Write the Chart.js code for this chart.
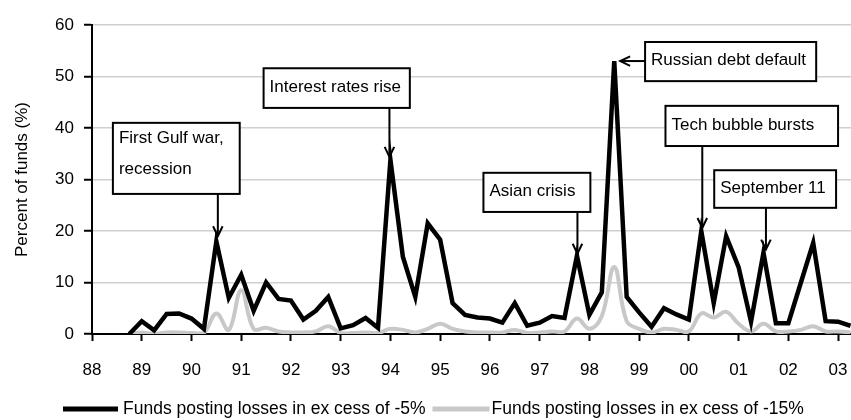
<!DOCTYPE html>
<html>
<head>
<meta charset="utf-8">
<script src="https://cdn.jsdelivr.net/npm/chart.js@4.4.1/dist/chart.umd.min.js"></script>
<style>
  html, body { margin: 0; padding: 0; background: #fff; }
  #wrap { width: 851px; height: 420px; }
</style>
</head>
<body>
<div id="wrap"><canvas id="fundsChart" width="851" height="420"></canvas></div>
<script>
// quarters (decimal year), from Q4 1988 to Q2 2003
const quarters = [
  1988.75,
  1989.0, 1989.25, 1989.5, 1989.75,
  1990.0, 1990.25, 1990.5, 1990.75,
  1991.0, 1991.25, 1991.5, 1991.75,
  1992.0, 1992.25, 1992.5, 1992.75,
  1993.0, 1993.25, 1993.5, 1993.75,
  1994.0, 1994.25, 1994.5, 1994.75,
  1995.0, 1995.25, 1995.5, 1995.75,
  1996.0, 1996.25, 1996.5, 1996.75,
  1997.0, 1997.25, 1997.5, 1997.75,
  1998.0, 1998.25, 1998.5, 1998.75,
  1999.0, 1999.25, 1999.5, 1999.75,
  2000.0, 2000.25, 2000.5, 2000.75,
  2001.0, 2001.25, 2001.5, 2001.75,
  2002.0, 2002.25, 2002.5, 2002.75,
  2003.0, 2003.25
];

// % of funds losing more than 5%
const lossOver5 = [
  0,
  2.5, 0.7, 3.9, 4.0,
  3.0, 1.0, 18, 7,
  11.5, 4.5, 10, 6.8,
  6.5, 2.8, 4.5, 7.2,
  1.1, 1.7, 3.1, 1.2,
  33.8, 15, 7.2, 21.5,
  18.3, 6, 3.7, 3.2,
  3.0, 2.2, 6.0, 1.6,
  2.2, 3.5, 3.1, 15.2,
  3.7, 8.1, 53, 7.2,
  4.2, 1.4, 5, 3.8,
  2.8, 20, 6, 19,
  13, 2.4, 15.8, 2.1,
  2.1, 9.9, 17.7, 2.5,
  2.4, 1.6
];

// % of funds losing more than 15%
const lossOver15 = [
  0,
  0.3, 0, 0.3, 0.3,
  0.2, 0.2, 4, 0.8,
  8.5, 1, 1.2, 0.5,
  0.3, 0.3, 0.5, 1.5,
  0.2, 0.2, 0.3, 0.2,
  1, 0.8, 0.3, 1,
  2, 1, 0.5, 0.3,
  0.3, 0.3, 0.8, 0.2,
  0.3, 0.5, 0.5, 3,
  1, 3.5, 13, 2.5,
  1, 0.3, 1, 0.8,
  0.5, 4, 3.2, 4.3,
  2, 0.5, 2, 0.5,
  0.5, 0.8, 1.5, 0.5,
  0.5, 0.3
];

const seriesLabels = ['Funds posting losses in ex cess of -5%', 'Funds posting losses in ex cess of -15%'];
const yTicks = [0, 10, 20, 30, 40, 50, 60];

// call-out boxes, in data units: box [x1, x2, yTop, yBottom], arrow at x pointing to y
const callouts = [
  { lines: ['First Gulf war,', 'recession'], box: [1988.42, 1990.97, 41, 27.2], arrowX: 1990.53, tipY: 19 },
  { lines: ['Interest rates rise'], box: [1991.45, 1994.39, 51.6, 43.9], arrowX: 1993.98, tipY: 34.4 },
  { lines: ['Asian crisis'], box: [1995.87, 1998.02, 31.3, 23.7], arrowX: 1997.76, tipY: 15.6 },
  { lines: ['Russian debt default'], box: [1999.12, 2002.56, 56.7, 49.1], arrowY: 53, tipX: 1998.62 },
  { lines: ['Tech bubble bursts'], box: [1999.53, 2003.0, 44.3, 36.5], arrowX: 2000.27, tipY: 20.6 },
  { lines: ['September 11'], box: [2000.51, 2002.96, 31.8, 24.5], arrowX: 2001.55, tipY: 16.4 }
];

const FONT = "'Liberation Sans', Arial, sans-serif";

function pts(ys) {
  return ys.map((v, i) => ({ x: quarters[i], y: v }));
}

function drawArrowHead(ctx, fromX, fromY, toX, toY) {
  const ang = Math.atan2(toY - fromY, toX - fromX);
  const len = 11, spread = Math.PI / 7;
  ctx.beginPath();
  ctx.moveTo(toX - len * Math.cos(ang - spread), toY - len * Math.sin(ang - spread));
  ctx.lineTo(toX, toY);
  ctx.lineTo(toX - len * Math.cos(ang + spread), toY - len * Math.sin(ang + spread));
  ctx.stroke();
}

const calloutPlugin = {
  id: 'callouts',
  afterDatasetsDraw(chart) {
    const { ctx, scales: { x, y } } = chart;
    ctx.save();
    ctx.lineWidth = 2;
    ctx.strokeStyle = '#000';
    callouts.forEach(c => {
      const x1 = x.getPixelForValue(c.box[0]);
      const x2 = x.getPixelForValue(c.box[1]);
      const y1 = y.getPixelForValue(c.box[2]);
      const y2 = y.getPixelForValue(c.box[3]);
      ctx.fillStyle = '#fff';
      ctx.fillRect(x1, y1, x2 - x1, y2 - y1);
      ctx.strokeRect(x1, y1, x2 - x1, y2 - y1);

      ctx.fillStyle = '#000';
      ctx.font = '17px ' + FONT;
      ctx.textBaseline = 'middle';
      ctx.textAlign = 'left';
      const first = c.lines.length > 1 ? y1 + 15 : (y1 + y2) / 2 - 1;
      c.lines.forEach((t, i) => ctx.fillText(t, x1 + 6, first + i * 31));

      ctx.beginPath();
      if (c.arrowX !== undefined) {
        const ax = x.getPixelForValue(c.arrowX);
        const ty = y.getPixelForValue(c.tipY);
        ctx.moveTo(ax, y2);
        ctx.lineTo(ax, ty);
        ctx.stroke();
        drawArrowHead(ctx, ax, y2, ax, ty);
      } else {
        const ay = y.getPixelForValue(c.arrowY);
        const tx = x.getPixelForValue(c.tipX);
        ctx.moveTo(x1, ay);
        ctx.lineTo(tx, ay);
        ctx.stroke();
        drawArrowHead(ctx, x1, ay, tx, ay);
      }
    });
    ctx.restore();
  }
};

// legend drawn under the axis, line sample + label for each series
const legendPlugin = {
  id: 'lineLegend',
  afterDraw(chart) {
    const { ctx } = chart;
    const yMid = 409;
    let xPos = 63;
    ctx.save();
    ctx.font = '17.5px ' + FONT;
    ctx.textBaseline = 'middle';
    ctx.textAlign = 'left';
    chart.data.datasets.forEach((d, i) => {
      const len = i === 0 ? 55 : 57;
      ctx.strokeStyle = d.borderColor;
      ctx.lineWidth = 5;
      ctx.beginPath();
      ctx.moveTo(xPos, yMid);
      ctx.lineTo(xPos + len, yMid);
      ctx.stroke();
      xPos += len + (i === 0 ? 5 : 2);
      ctx.fillStyle = '#000';
      ctx.fillText(d.label, xPos, yMid);
      xPos += ctx.measureText(d.label).width + 7;
    });
    ctx.restore();
  }
};

document.addEventListener('DOMContentLoaded', function() {
  const ctx = document.getElementById('fundsChart').getContext('2d');
  new Chart(ctx, {
    type: 'line',
    data: {
      datasets: [{
        label: seriesLabels[0],
        data: pts(lossOver5),
        borderColor: '#000',
        backgroundColor: '#000',
        borderWidth: 4.5,
        pointRadius: 0,
        tension: 0
      }, {
        label: seriesLabels[1],
        data: pts(lossOver15),
        borderColor: '#c8c8c8',
        backgroundColor: '#c8c8c8',
        borderWidth: 4,
        pointRadius: 0,
        tension: 0.4
      }]
    },
    options: {
      responsive: false,
      animation: false,
      layout: { padding: { top: 25, right: 0, left: 0, bottom: 34 } },
      plugins: {
        tooltip: { enabled: false },
        legend: { display: false }
      },
      scales: {
        x: {
          type: 'linear',
          min: 1988,
          max: 2003.26,
          afterFit(s) { s.height = 52; s.paddingRight = 0; s.paddingLeft = 0; },
          afterBuildTicks(s) { s.ticks = s.ticks.filter(t => Number.isInteger(t.value)); },
          ticks: {
            stepSize: 1,
            includeBounds: false,
            autoSkip: false,
            maxRotation: 0,
            color: '#000',
            padding: 19,
            font: { family: FONT, size: 17 },
            callback: v => String(v % 100).padStart(2, '0')
          },
          grid: { drawOnChartArea: false, tickColor: '#000', tickLength: 7, tickWidth: 2 },
          border: { color: '#000', width: 2 }
        },
        y: {
          min: 0,
          max: 60,
          afterFit(s) { s.width = 92; },
          afterBuildTicks(s) { s.ticks = yTicks.map(v => ({ value: v })); },
          ticks: {
            color: '#000',
            padding: 10,
            font: { family: FONT, size: 17 }
          },
          grid: { color: '#cfcfcf', lineWidth: 1.5, tickColor: '#000', tickLength: 8, tickWidth: 2 },
          border: { color: '#000', width: 2 },
          title: {
            display: true,
            text: 'Percent of funds (%)',
            color: '#000',
            padding: { top: 12, bottom: 0 },
            font: { family: FONT, size: 17 }
          }
        }
      }
    },
    plugins: [calloutPlugin, legendPlugin]
  });
});
</script>
</body>
</html>
